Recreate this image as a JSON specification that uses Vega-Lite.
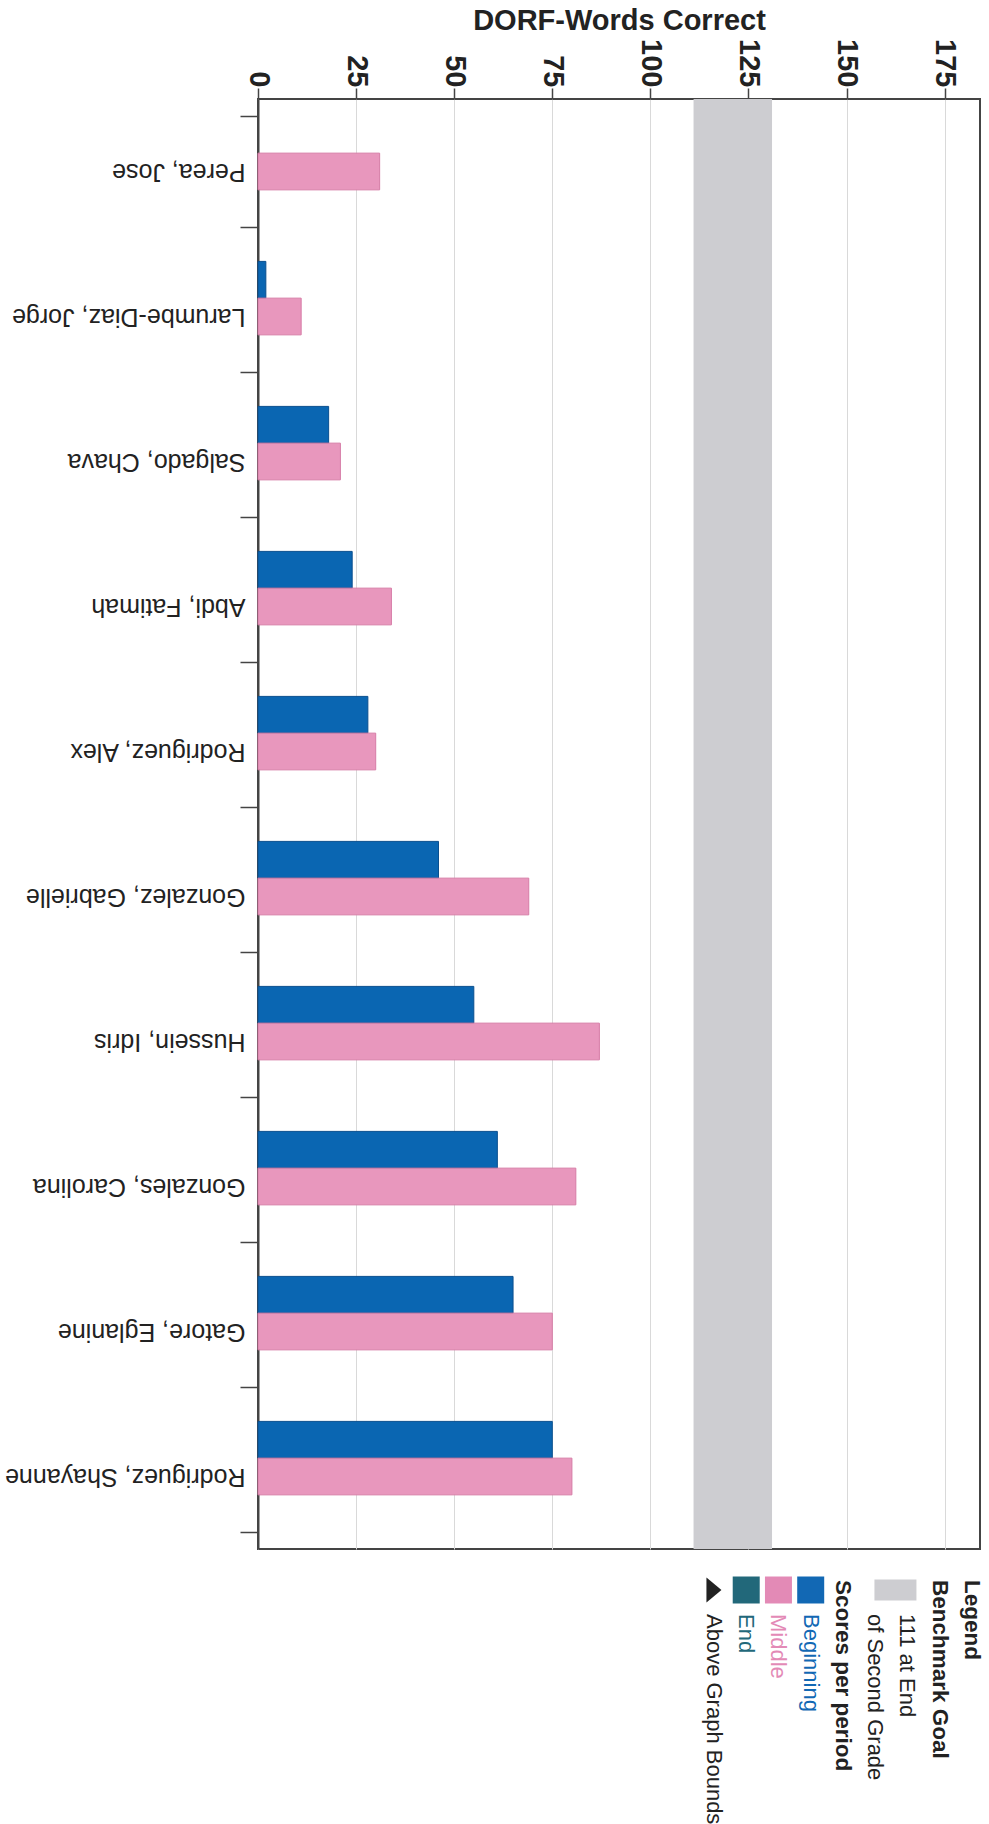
{
  "$schema": "https://vega.github.io/schema/vega-lite/v6.json",
  "padding": {"left": 3, "top": 5, "right": 5, "bottom": 0},
  "background": "white",
  "config": {"font": "Liberation Sans", "view": {"stroke": "#444444", "strokeWidth": 2}},
  "datasets": {
    "scores": [
      {"student": "Perea, Jose", "period": "Middle", "score": 31},
      {"student": "Larumbe-Diaz, Jorge", "period": "Beginning", "score": 2},
      {"student": "Larumbe-Diaz, Jorge", "period": "Middle", "score": 11},
      {"student": "Salgado, Chava", "period": "Beginning", "score": 18},
      {"student": "Salgado, Chava", "period": "Middle", "score": 21},
      {"student": "Abdi, Fatimah", "period": "Beginning", "score": 24},
      {"student": "Abdi, Fatimah", "period": "Middle", "score": 34},
      {"student": "Rodriguez, Alex", "period": "Beginning", "score": 28},
      {"student": "Rodriguez, Alex", "period": "Middle", "score": 30},
      {"student": "Gonzalez, Gabrielle", "period": "Beginning", "score": 46},
      {"student": "Gonzalez, Gabrielle", "period": "Middle", "score": 69},
      {"student": "Hussein, Idris", "period": "Beginning", "score": 55},
      {"student": "Hussein, Idris", "period": "Middle", "score": 87},
      {"student": "Gonzales, Carolina", "period": "Beginning", "score": 61},
      {"student": "Gonzales, Carolina", "period": "Middle", "score": 81},
      {"student": "Gatore, Eglanine", "period": "Beginning", "score": 65},
      {"student": "Gatore, Eglanine", "period": "Middle", "score": 75},
      {"student": "Rodriguez, Shayanne", "period": "Beginning", "score": 75},
      {"student": "Rodriguez, Shayanne", "period": "Middle", "score": 80}
    ],
    "benchmark": [{"goal": 111, "goal_band_end": 131}],
    "legend_items": [
      {"rank": 1, "label": "Legend", "level": "head", "key": "plain"},
      {"rank": 2, "label": "Benchmark Goal", "level": "head", "key": "plain"},
      {"rank": 3, "label": "111 at End", "level": "indent", "key": "plain"},
      {"rank": 4, "label": "of Second Grade", "level": "indent", "key": "plain"},
      {"rank": 5, "label": "Scores per period", "level": "head", "key": "plain"},
      {"rank": 6, "label": "Beginning", "level": "indent", "key": "Beginning"},
      {"rank": 7, "label": "Middle", "level": "indent", "key": "Middle"},
      {"rank": 8, "label": "End", "level": "indent", "key": "End"},
      {"rank": 9, "label": "Above Graph Bounds", "level": "indent", "key": "plain"}
    ],
    "legend_swatches": [
      {"rank": 3, "level": "swatch", "key": "Benchmark"},
      {"rank": 6, "level": "swatch", "key": "Beginning"},
      {"rank": 7, "level": "swatch", "key": "Middle"},
      {"rank": 8, "level": "swatch", "key": "End"},
      {"rank": 9, "level": "swatch", "key": "plain"}
    ]
  },
  "resolve": {"scale": {"color": "independent", "x": "independent", "y": "independent"}},
  "spacing": 26,
  "vconcat": [
    {
      "width": 722,
      "height": 1450,
      "layer": [
        {
          "data": {"name": "benchmark"},
          "mark": {"type": "rect", "color": "#cdcdd1"},
          "encoding": {
            "x": {"field": "goal", "type": "quantitative", "title": "DORF-Words Correct", "scale": {"domain": [0, 184], "nice": false}},
            "x2": {"field": "goal_band_end"}
          }
        },
        {
          "data": {"name": "scores"},
          "mark": {"type": "bar", "strokeWidth": 1},
          "encoding": {
            "y": {
              "field": "student", "type": "nominal",
              "sort": ["Perea, Jose", "Larumbe-Diaz, Jorge", "Salgado, Chava", "Abdi, Fatimah", "Rodriguez, Alex", "Gonzalez, Gabrielle", "Hussein, Idris", "Gonzales, Carolina", "Gatore, Eglanine", "Rodriguez, Shayanne"],
              "scale": {"paddingInner": 0.24, "paddingOuter": 0.12},
              "axis": {
                "title": null, "labelAngle": 180, "labelAlign": "left", "labelBaseline": "middle",
                "labelFontSize": 25, "labelColor": "#222222", "labelPadding": -5, "labelLimit": 500,
                "tickSize": 18, "tickBand": "extent", "tickColor": "#444444", "tickWidth": 1.5,
                "domainColor": "#444444", "domainWidth": 2
              }
            },
            "yOffset": {"field": "period", "type": "nominal", "scale": {"domain": ["Beginning", "Middle", "End"], "paddingInner": 0, "paddingOuter": 0}},
            "x": {
              "field": "score", "type": "quantitative", "title": "DORF-Words Correct",
              "scale": {"domain": [0, 184], "nice": false},
              "axis": {
                "orient": "top", "values": [0, 25, 50, 75, 100, 125, 150, 175],
                "labelAngle": 90, "labelAlign": "right", "labelBaseline": "middle",
                "labelFontSize": 29, "labelFontWeight": "bold", "labelColor": "#222222",
                "labelPadding": 1, "labelFlush": false, "labelOverlap": false,
                "tickSize": 11, "tickColor": "#444444", "tickWidth": 1.5,
                "domain": false, "grid": true, "gridColor": "#d9d9d9", "gridWidth": 1,
                "titleFontSize": 29, "titleFontWeight": "bold", "titleColor": "#222222", "titlePadding": 3
              }
            },
            "color": {"field": "period", "type": "nominal", "scale": {"domain": ["Beginning", "Middle", "End"], "range": ["#0a66b2", "#e897bd", "#136178"]}, "legend": null},
            "stroke": {"field": "period", "type": "nominal", "scale": {"domain": ["Beginning", "Middle", "End"], "range": ["#0a4f8f", "#d67ca6", "#0d4a5c"]}, "legend": null}
          }
        }
      ]
    },
    {
      "width": 722,
      "height": 34,
      "view": {"stroke": null},
      "encoding": {
        "x": {"field": "rank", "type": "quantitative", "scale": {"domain": [0.75, 23.14], "reverse": true, "nice": false, "zero": false}, "axis": null},
        "y": {"field": "level", "type": "nominal", "scale": {"type": "point", "domain": ["head", "swatch", "indent"], "padding": 0}, "axis": null},
        "color": {"field": "key", "type": "nominal", "scale": {"domain": ["Beginning", "Middle", "End", "Benchmark", "plain"], "range": ["#1268b4", "#e38ab6", "#22687a", "#cdcdd1", "#222222"]}, "legend": null}
      },
      "layer": [
        {
          "data": {"name": "legend_items"},
          "transform": [{"filter": "datum.level === 'head'"}],
          "mark": {"type": "text", "angle": 90, "align": "left", "baseline": "middle", "fontSize": 22.5, "fontWeight": "bold"},
          "encoding": {"text": {"field": "label"}}
        },
        {
          "data": {"name": "legend_items"},
          "transform": [{"filter": "datum.level === 'indent'"}],
          "mark": {"type": "text", "angle": 90, "align": "left", "baseline": "middle", "fontSize": 22},
          "encoding": {"text": {"field": "label"}}
        },
        {
          "data": {"name": "legend_swatches"},
          "transform": [{"filter": "datum.key === 'Benchmark'"}],
          "mark": {"type": "point", "shape": "M-1,-0.5H1V0.5H-1Z", "size": 1764, "filled": true, "opacity": 1, "xOffset": -12, "yOffset": -7}
        },
        {
          "data": {"name": "legend_swatches"},
          "transform": [{"filter": "datum.key === 'Beginning' || datum.key === 'Middle' || datum.key === 'End'"}],
          "mark": {"type": "point", "shape": "square", "size": 729, "filled": true, "opacity": 1, "yOffset": -7}
        },
        {
          "data": {"name": "legend_swatches"},
          "transform": [{"filter": "datum.key === 'plain'"}],
          "mark": {"type": "point", "shape": "M-0.6,-1L0.6,0L-0.6,1Z", "size": 625, "filled": true, "opacity": 1, "yOffset": -7}
        }
      ]
    }
  ]
}
